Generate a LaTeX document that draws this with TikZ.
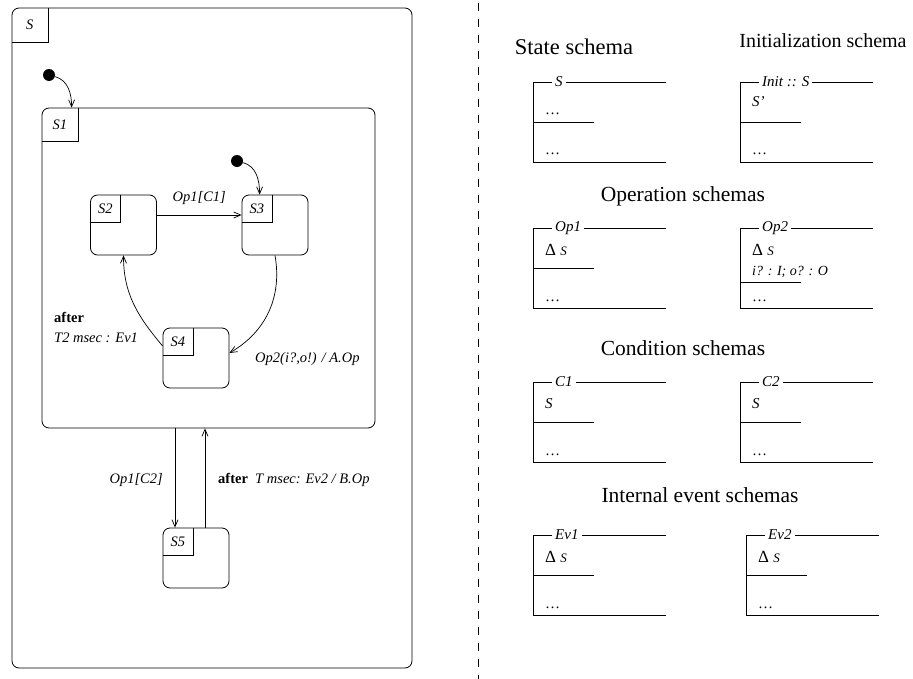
\documentclass[tikz,border=0pt]{standalone}
\usepackage{fontspec}
\setmainfont{Liberation Serif}
\usetikzlibrary{arrows.meta}

\begin{document}
\begin{tikzpicture}[
        x=1pt, y=1pt,
        state/.style={draw, rounded corners=7pt, minimum width=66pt, minimum height=60pt, inner sep=0pt, line width=0.8pt},
        tag/.style={anchor=north west, inner sep=0pt, font=\fontsize{14.5}{17}\selectfont\itshape},
        initdot/.style={circle, fill, minimum size=12pt, inner sep=0pt},
        trans/.style={-{Straight Barb[length=7pt, width=6pt]}, line width=0.7pt},
        lbl/.style={inner sep=0pt, font=\fontsize{14.5}{17}\selectfont\itshape},
        title/.style={anchor=base, inner sep=0pt, font=\fontsize{21.5}{24}\selectfont},
        zname/.style={fill=white, anchor=west, inner xsep=3pt, inner ysep=0pt, font=\fontsize{15}{17}\selectfont\itshape},
        zline/.style={anchor=base west, inner sep=0pt, font=\fontsize{15}{17}\selectfont},
    ]
        \useasboundingbox (0,0) rectangle (913,-679);

        % statechart
        \node[state, minimum width=400pt, minimum height=660pt] (S) at (212,-338) {};
        \node[state, minimum width=333pt, minimum height=320pt] (S1) at (208.5,-268) {};
        \node[state] (S2) at (123.5,-225) {};
        \node[state] (S3) at (275,-225) {};
        \node[state] (S4) at (196,-358) {};
        \node[state] (S5) at (196,-558) {};

        \foreach \sname/\w/\h in {S/36/34, S1/36/33, S2/30/27, S3/30/27, S4/30/27, S5/30/27} {
            \node[tag, minimum width=\w pt, minimum height=\h pt] (\sname-tag) at (\sname.north west) {\sname};
            \draw[line width=0.8pt] (\sname-tag.north east) |- (\sname-tag.south west);
        }

        \node[initdot] (init0) at (49,-75) {};
        \node[initdot] (init1) at (237,-161) {};
        \draw[trans] (init0) to[out=-15, in=90] ([xshift=30pt]S1.north west);
        \draw[trans] (init1) to[out=-15, in=90] ([xshift=18pt]S3.north west);

        \draw[trans] ([yshift=10pt]S2.east) -- node[lbl, anchor=base, yshift=13pt] {Op1[C1]} ([yshift=10pt]S3.west);
        \draw[trans] (S3.south) to[out=-80, in=30] ([yshift=5pt]S4.east);
        \draw[trans] ([yshift=12pt]S4.west) to[out=130, in=-90] (S2.south);

        \node[lbl, anchor=base west, font=\fontsize{14.5}{17}\selectfont\bfseries] (aft1) at (54,-322) {after};
        \node[lbl, anchor=base west] (ev1lbl) at (54,-342) {T2 msec : Ev1};
        \node[lbl, anchor=base west] (op2lbl) at (255,-362) {Op2(i?,o!) / A.Op};

        \draw[trans] ([xshift=-21pt]S5.north |- S1.south) -- ([xshift=-21pt]S5.north);
        \draw[trans] ([xshift=9pt]S5.north) -- ([xshift=9pt]S5.north |- S1.south);
        \node[lbl, anchor=base east] (op1lbl) at (163,-483) {Op1[C2]};
        \node[lbl, anchor=base west] (aft2) at (218,-483) {\textup{\textbf{after}}\enspace T msec: Ev2 / B.Op};

        % divider
        \draw[line width=1pt, dash pattern=on 8pt off 8pt] (478,-3) -- (478,-679);

        % Z schemas
        \node[title, font=\fontsize{22.5}{24}\selectfont] (tstate) at (574,-55) {State schema};
        \node[title, font=\fontsize{20}{24}\selectfont] (tinit) at (823,-48) {Initialization schema};
        \node[title] (top) at (683,-202) {Operation schemas};
        \node[title] (tcond) at (683,-355) {Condition schemas};
        \node[title] (tev) at (700,-502) {Internal event schemas};

        \foreach \n/\x/\y/\lab/\mid in {zs/533/82/S/40, zi/740/82/Init :: S/40, zop1/533/228/Op1/40, zop2/740/228/Op2/54,
                zc1/533/382/C1/40, zc2/740/382/C2/40, zev1/533/535/Ev1/40, zev2/746/535/Ev2/40} {
            \draw[line width=0.8pt] (\x+133,-\y) -- (\x,-\y) -- (\x,-\y-80) -- (\x+133,-\y-80);
            \draw[line width=0.8pt] (\x,-\y-\mid) -- (\x+61,-\y-\mid);
            \node[zname] (\n) at (\x+19,-\y) {\lab};
            \node[zline] (\n-dots) at (\x+12,-\y-73) {\ldots};
        }

        \node[zline] (zs-a) at (545,-115) {\ldots};
        \node[zline] (zi-a) at (752,-107) {\textit{S'}};
        \node[zline] (zop1-a) at (545,-255) {\fontsize{17}{17}\selectfont Δ \fontsize{13}{15}\selectfont\textit{S}};
        \node[zline] (zop2-a) at (752,-255) {\fontsize{17}{17}\selectfont Δ \fontsize{13}{15}\selectfont\textit{S}};
        \node[zline, font=\fontsize{14}{16}\selectfont\itshape] (zop2-b) at (752,-275) {i? : I; o? : O};
        \node[zline] (zc1-a) at (545,-408) {\textit{S}};
        \node[zline] (zc2-a) at (752,-408) {\textit{S}};
        \node[zline] (zev1-a) at (545,-562) {\fontsize{17}{17}\selectfont Δ \fontsize{13}{15}\selectfont\textit{S}};
        \node[zline] (zev2-a) at (758,-562) {\fontsize{17}{17}\selectfont Δ \fontsize{13}{15}\selectfont\textit{S}};
    \end{tikzpicture}
\end{document}
